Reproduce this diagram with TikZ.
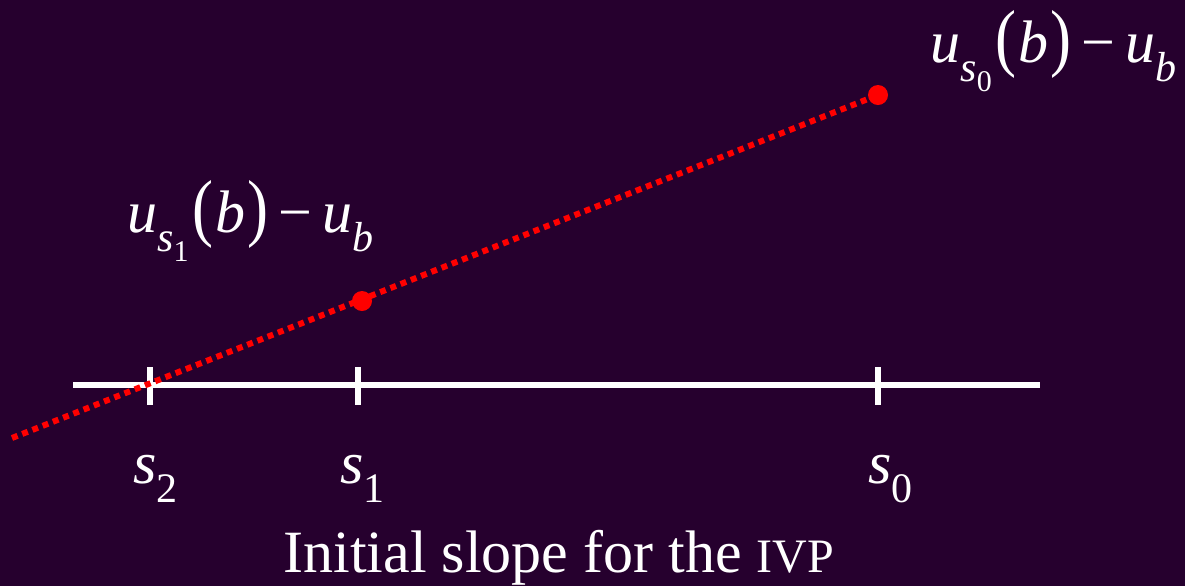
\documentclass[tikz,border=0pt]{standalone}
\usepackage{fontspec}
\setmainfont{Liberation Serif}[ItalicFont={Liberation Serif Italic}]
\usepackage{tikz}
\usetikzlibrary{positioning}
\definecolor{nightPurple}{RGB}{38, 0, 46}
\definecolor{shotRed}{RGB}{255, 0, 0}
% italic letter with a lowered index, sized by hand
\newcommand{\idx}[2]{\textit{#1}\raisebox{-0.32em}{\fontsize{21}{24}\selectfont #2}}
\newcommand{\subidx}[1]{\raisebox{-0.25em}{\fontsize{15}{16}\selectfont #1}}
\newcommand{\bigpar}[1]{\scalebox{1.05}[1.25]{#1}}
\newcommand{\resid}[1]{\idx{u}{\textit{s}\subidx{#1}}\kern2pt\bigpar{(}\kern1pt\textit{b}\kern1pt\bigpar{)}\kern5pt−\kern5pt\idx{u}{\textit{b}}}

\begin{document}
\begin{tikzpicture}[x=0.5pt, y=-0.5pt,
    lbl/.style={anchor=base west, inner sep=0, text=white, font=\fontsize{30}{36}\selectfont},
    tick/.style={white, line width=3pt},
    shot/.style={circle, fill=shotRed, inner sep=0, minimum size=10pt}]
    % Background
    \fill[nightPurple] (0,0) rectangle (1185,586);
    \useasboundingbox (0,0) rectangle (1185,586);

    % Axis of initial slopes
    \coordinate (axisL) at (73,385);
    \coordinate (axisR) at (1040,385);
    \draw[white, line width=3pt] (axisL) -- (axisR);
    \foreach \x/\n in {150/2, 358/1, 878/0} {
        \coordinate (t\n) at (\x,385);
        \draw[tick] ([yshift=9pt]t\n) -- ([yshift=-10pt]t\n);
    }

    % Residuals at the two shots
    \node[shot] (p0) at (878,95) {};
    \node[shot] (p1) at (362,301) {};
    \coordinate (start) at (12,438);
    \draw[shotRed, line width=3pt, dash pattern=on 3pt off 2.5pt] (start) -- (p0);

    \node[lbl] (r0) at (930,62) {\resid{0}};
    \node[lbl] (r1) at (127,232) {\resid{1}};

    % Slope labels
    \node[lbl] (s2) at (133,483) {\idx{s}{2}};
    \node[lbl] (s1) at (340,483) {\idx{s}{1}};
    \node[lbl] (s0) at (868,483) {\idx{s}{0}};

    \node[lbl] (title) at (283,572) {Initial slope for the {\fontsize{24}{28}\selectfont IVP}};
\end{tikzpicture}
\end{document}
